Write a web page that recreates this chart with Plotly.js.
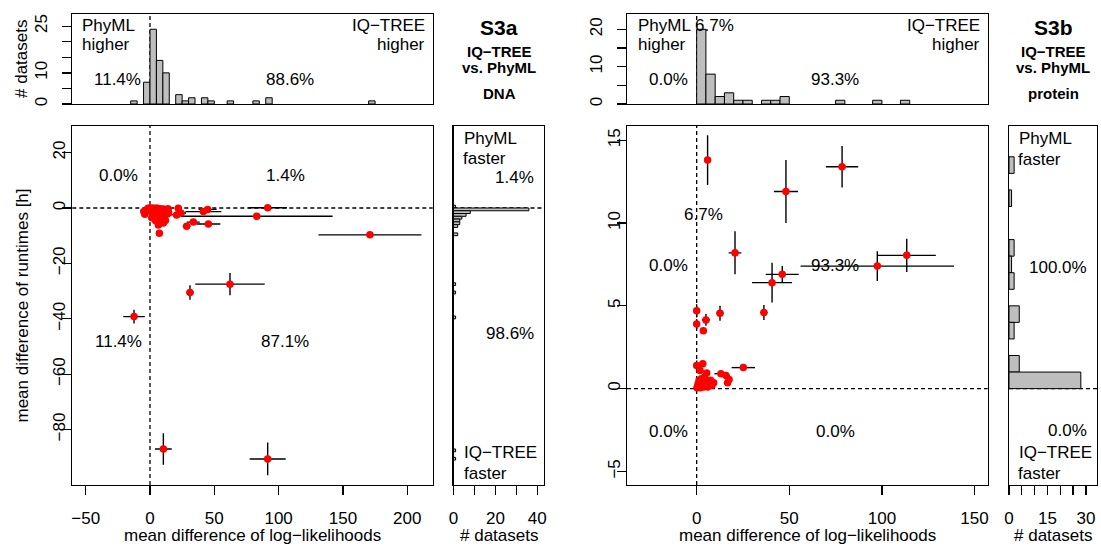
<!DOCTYPE html>
<html><head><meta charset="utf-8">
<script src="https://cdn.plot.ly/plotly-3.0.1.min.js"></script>
<style>html,body{margin:0;padding:0;background:#fff}#chart{width:1101px;height:547px}</style>
</head><body><div id="chart"></div>
<script>
// ---------------- DATA ----------------
// S3a  DNA: mean difference of log-likelihoods (x) and runtimes [h] (y), with error half-widths
const dnaLl = [91.5, 83, 171, 62.2, 31.1, -12.4, 10.4, 91.5, 45.4, 33.7, 28.5, 41.5, 44.8, 20.7, 22, 10.4, 6.5, 7.3, -4.8, 24,
  10.5, 11.5, 12.5, 13.5, 14, 11, 12, 14.5,
  5.5, 6, 6.5, 7, 7.5, 8, 8.5, 9, 9.5, 6.2, 5.8, 8.8,
  -1, -2, -3, -0.5, -4, -1.5,
  0.3, 0.5, 0.8, 1.0, 1.2, 1.5, 1.7, 2.0, 2.2, 2.5, 2.7, 3.0, 3.2, 3.5, 3.8, 4.0, 4.2, 4.5, 4.8,
  1.8, 2.8, 3.6, 1.4, 4.4];
const dnaRt = [0.1, -3.0, -9.7, -27.5, -30.5, -39.2, -87, -90.6, -5.8, -5.1, -6.6, -1.3, -0.5, -2.5, -0.1, -5.4, -6.1, -9.1, -1.3, -1.8,
  -0.4, -1.2, -0.8, -2.2, -0.3, -3.4, -4.5, -1.6,
  -0.2, -0.6, -0.9, -0.3, -1.5, -0.5, -2.5, -0.7, -3.6, -4.2, -0.1, -0.4,
  -0.2, -0.5, -0.8, -1.1, -2.3, -0.1,
  -0.1, -0.3, -0.6, -0.2, -0.8, -0.4, -0.1, -0.5, -0.9, -0.2, -0.7, -0.3, -0.5, -0.1, -0.6, -0.4, -0.8, -0.2, -0.5,
  -1.4, -2.3, -2.7, -3.5, -4.6];
const dnaLlErr = [15, 59, 40, 27, 3, 8.4, 6.5, 14, 9.3, 5, 3, 14, 7, 6, 2, 2, 1.5, 1.5, 1.5, 4,
  2, 3, 2.5, 2, 3, 1.5, 1.5, 2,
  1, 1.5, 1, 2, 1.5, 1, 2, 1.5, 1, 1, 1, 1.5,
  1, 1.5, 1, 1, 1.5, 1,
  1, 1, 1.5, 1, 1, 2, 1, 1, 1.5, 1, 1, 2, 1, 1, 1.5, 1, 1, 1, 1.5,
  1, 1.5, 1, 1, 1.5];
const dnaRtErr = [0.3, 0.3, 0.5, 4, 2.6, 2.5, 5.7, 5.9, 0.4, 0.4, 0.4, 0.3, 0.3, 0.3, 0.2, 0.4, 0.4, 0.4, 0.3, 0.3,
  0.2, 0.2, 0.2, 0.3, 0.2, 0.3, 0.3, 0.2,
  0.2, 0.2, 0.2, 0.2, 0.2, 0.2, 0.2, 0.2, 0.2, 0.2, 0.2, 0.2,
  0.2, 0.2, 0.2, 0.2, 0.2, 0.2,
  0.2, 0.2, 0.2, 0.2, 0.2, 0.2, 0.2, 0.2, 0.2, 0.2, 0.2, 0.2, 0.2, 0.2, 0.2, 0.2, 0.2, 0.2, 0.2,
  0.3, 0.3, 0.3, 0.3, 0.3];
// DNA marginal histograms (bin lower edge, count)
const dnaLlBinStart = [-15, -5, 0, 5, 10, 20, 25, 30, 40, 45, 60, 80, 90, 170];   // bin width 5
const dnaLlCounts   = [1, 7, 24, 14, 10, 3, 1, 2, 2, 1, 1, 1, 2, 1];
const dnaRtBinStart = [0, -1, -2, -3, -4, -5, -6, -7, -10, -28, -31, -40, -88, -91]; // bin width 1
const dnaRtCounts   = [1, 36, 8, 6, 4, 3, 3, 2, 2, 1, 1, 1, 1, 1];

// S3b  protein
const protLl = [5.9, 78.5, 48.2, 20.7, 113.4, 97.5, 46.2, 40.7, 36.3, 12.6, 0, 5.0, 0, 3.6, 25.2, 0, 3.3, 13.1, 15.8, 16.7, 1.8, 5.4,
  0.2, 0.5, 0.8, 1.0, 1.3, 1.6, 1.9, 2.2, 2.5, 2.8, 3.1, 3.4, 3.7, 4.0, 4.3, 4.7,
  5.3, 6.0, 6.8, 7.5, 8.3, 9.2, 17.5];
const protRt = [13.8, 13.4, 11.9, 8.2, 8.05, 7.4, 6.9, 6.4, 4.6, 4.55, 4.7, 4.15, 3.9, 3.5, 1.27, 1.4, 1.5, 0.9, 0.8, 0.36, 1.1, 0.95,
  0.05, 0.15, 0.3, 0.1, 0.5, 0.2, 0.05, 0.35, 0.6, 0.15, 0.25, 0.45, 0.1, 0.3, 0.7, 0.2,
  0.4, 0.1, 0.3, 0.5, 0.2, 0.35, 0.55];
const protLlErr = [0.8, 8.7, 6.5, 3.4, 15.7, 41.4, 8.9, 10.8, 2, 2, 0.3, 2.2, 0.3, 0.5, 6.3, 0.2, 0.5, 3.5, 2, 1.5, 0.5, 1,
  0.3, 0.3, 0.4, 0.3, 0.5, 0.3, 0.4, 0.5, 0.3, 0.4, 0.5, 0.3, 0.4, 0.5, 0.3, 0.4,
  0.6, 0.5, 0.8, 0.6, 0.7, 0.8, 1.5];
const protRtErr = [1.5, 1.25, 1.9, 1.3, 1.0, 0.9, 0.5, 1.2, 0.45, 0.45, 0.4, 0.35, 0.3, 0.2, 0.1, 0.3, 0.2, 0.1, 0.1, 0.1, 0.1, 0.1,
  0.05, 0.05, 0.05, 0.05, 0.05, 0.05, 0.05, 0.05, 0.05, 0.05, 0.05, 0.05, 0.05, 0.05, 0.05, 0.05,
  0.05, 0.05, 0.05, 0.05, 0.05, 0.05, 0.05];
const protLlBinStart = [0, 5, 10, 15, 20, 25, 35, 40, 45, 75, 95, 110];  // bin width 5
const protLlCounts   = [20, 8, 2, 3, 1, 1, 1, 1, 2, 1, 1, 1];
const protRtBinStart = [13, 11, 8, 7, 6, 4, 3, 1, 0];                    // bin width 1
const protRtCounts   = [2, 1, 2, 1, 2, 4, 2, 4, 28];

// ---------------- DRAWING ----------------
const W = 1101, H = 547;
const px = x => x / W, py = y => 1 - y / H;
const FONT = '"Liberation Sans", Arial, Helvetica, sans-serif';
const LW = 1.3;
const DASH = '4px,3px';

function histV(bs, c, w, xa, ya) {
  return {type: 'bar', x: bs.map(b => b + w / 2), y: c, width: w, xaxis: xa, yaxis: ya,
    marker: {color: '#bebebe', line: {color: 'black', width: 1}}, hoverinfo: 'skip', showlegend: false};
}
function histH(bs, c, w, xa, ya) {
  return {type: 'bar', orientation: 'h', y: bs.map(b => b + w / 2), x: c, width: w, xaxis: xa, yaxis: ya,
    marker: {color: '#bebebe', line: {color: 'black', width: 1}}, hoverinfo: 'skip', showlegend: false};
}
function scat(x, y, ex, ey, xa, ya) {
  return {type: 'scatter', mode: 'markers', x, y, xaxis: xa, yaxis: ya, showlegend: false,
    marker: {color: '#ff0000', size: 7.5},
    error_x: {type: 'data', array: ex, width: 0, color: 'black', thickness: 1.4},
    error_y: {type: 'data', array: ey, width: 0, color: 'black', thickness: 1.4}};
}

const traces = [
  scat(dnaLl, dnaRt, dnaLlErr, dnaRtErr, 'x', 'y'),
  histV(dnaLlBinStart, dnaLlCounts, 5, 'x2', 'y2'),
  histH(dnaRtBinStart, dnaRtCounts, 1, 'x3', 'y3'),
  scat(protLl, protRt, protLlErr, protRtErr, 'x4', 'y4'),
  histV(protLlBinStart, protLlCounts, 5, 'x5', 'y5'),
  histH(protRtBinStart, protRtCounts, 1, 'x6', 'y6')
];

const base = {showline: true, mirror: true, linecolor: 'black', linewidth: LW, showgrid: false, zeroline: false,
  ticks: 'outside', ticklen: 9, tickwidth: LW, tickcolor: 'black',
  tickfont: {family: FONT, size: 17, color: 'black'}, fixedrange: true};
const noTick = {ticks: '', showticklabels: false};
const xStand = 8, yStandMain = -10, yStandTop = 8;

const mainY = [py(485), py(126)], topY = [py(104), py(14)];
const lX = [px(72.3), px(432.7)], lH = [px(453.5), px(544)];
const rX = [px(627), px(987.7)], rH = [px(1009), px(1097)];
const lXr = [-60.4, 219.8], lYr = [-100, 29.6];
const rXr = [-37.6, 157.1], rYr = [-5.82, 15.86];

const layout = {
  width: W, height: H, margin: {l: 0, r: 0, t: 0, b: 0}, paper_bgcolor: 'white', plot_bgcolor: 'white',
  showlegend: false, font: {family: FONT, size: 17, color: 'black'},
  xaxis:  {...base, domain: lX, range: lXr, tickvals: [-50, 0, 50, 100, 150, 200], anchor: 'y', ticklabelstandoff: xStand},
  yaxis:  {...base, domain: mainY, range: lYr, tickvals: [-80, -60, -40, -20, 0, 20], tickangle: -90, anchor: 'x', ticklabelstandoff: yStandMain},
  xaxis2: {...base, ...noTick, domain: lX, range: lXr, anchor: 'y2'},
  yaxis2: {...base, domain: topY, range: [0, 28.9], tickvals: [0, 5, 10, 15, 20, 25], ticktext: ['0', '', '10', '', '', '25'], tickangle: -90, anchor: 'x2', ticklabelstandoff: yStandTop},
  xaxis3: {...base, domain: lH, range: [0, 43.2], tickvals: [0, 10, 20, 30, 40], ticktext: ['0', '', '20', '', '40'], anchor: 'y3', ticklabelstandoff: xStand},
  yaxis3: {...base, ...noTick, domain: mainY, range: lYr, anchor: 'x3'},
  xaxis4: {...base, domain: rX, range: rXr, tickvals: [0, 50, 100, 150], anchor: 'y4', ticklabelstandoff: xStand},
  yaxis4: {...base, domain: mainY, range: rYr, tickvals: [-5, 0, 5, 10, 15], tickangle: -90, anchor: 'x4', ticklabelstandoff: yStandMain},
  xaxis5: {...base, ...noTick, domain: rX, range: rXr, anchor: 'y5'},
  yaxis5: {...base, domain: topY, range: [0, 24.1], tickvals: [0, 5, 10, 15, 20], ticktext: ['0', '', '10', '', '20'], tickangle: -90, anchor: 'x5', ticklabelstandoff: yStandTop},
  xaxis6: {...base, domain: rH, range: [0, 34.3], tickvals: [0, 5, 10, 15, 20, 25, 30], ticktext: ['0', '', '', '15', '', '', '30'], anchor: 'y6', ticklabelstandoff: xStand},
  yaxis6: {...base, ...noTick, domain: mainY, range: rYr, anchor: 'x6'},
  bargap: 0
};

const dl = {color: 'black', width: LW, dash: DASH};
function vline(xa, ya) { return {type: 'line', xref: xa, yref: ya + ' domain', x0: 0, x1: 0, y0: 0, y1: 1, line: dl, layer: 'below'}; }
function hline(xa, ya) { return {type: 'line', xref: xa + ' domain', yref: ya, x0: 0, x1: 1, y0: 0, y1: 0, line: dl, layer: 'below'}; }
layout.shapes = [vline('x', 'y'), hline('x', 'y'), vline('x2', 'y2'), hline('x3', 'y3'),
                 vline('x4', 'y4'), hline('x4', 'y4'), vline('x5', 'y5'), hline('x6', 'y6')];

function ann(text, x, y, xanchor, extra) {
  return Object.assign({text, x: px(x), y: py(y), xref: 'paper', yref: 'paper', xanchor: xanchor || 'center', yanchor: 'middle',
    showarrow: false, font: {family: FONT, size: 17, color: 'black'}}, extra || {});
}
const bold = s => ({font: {family: FONT, size: s, color: 'black'}});
const bot = {borderpad: 0};
layout.annotations = [
  // S3a
  ann('PhyML', 80, 25, 'left'), ann('higher', 80, 45, 'left'),
  ann('IQ\u2212TREE', 427, 25, 'right'), ann('higher', 427, 45, 'right'),
  ann('11.4%', 117, 79), ann('88.6%', 290, 79),
  ann('0.0%', 118, 175), ann('1.4%', 285, 175), ann('11.4%', 118, 341), ann('87.1%', 285, 341),
  ann('PhyML', 462, 138, 'left'), ann('faster', 461, 158, 'left'), ann('1.4%', 536, 177, 'right'),
  ann('98.6%', 536, 333, 'right'), ann('IQ\u2212TREE', 462, 452, 'left'), ann('faster', 462, 473, 'left'),
  ann('<b>S3a</b>', 499, 27, 'center', bold(21)), ann('<b>IQ\u2212TREE</b>', 499, 52, 'center', bold(15)),
  ann('<b>vs. PhyML</b>', 499, 67, 'center', bold(15)), ann('<b>DNA</b>', 499, 93, 'center', bold(15)),
  ann('mean difference of log\u2212likelihoods', 252.5, 535.5, 'center', bot), ann('# datasets', 499, 535.5, 'center', bot),
  ann('mean difference of runtimes [h]', 22, 305.5, 'center', {textangle: -90}),
  ann('# datasets', 22, 59, 'center', {textangle: -90}),
  // S3b
  ann('PhyML', 636, 25, 'left'), ann('6.7%', 714.5, 25), ann('higher', 636, 45, 'left'),
  ann('IQ\u2212TREE', 982, 25, 'right'), ann('higher', 982, 45, 'right'),
  ann('0.0%', 668, 79), ann('93.3%', 835, 79),
  ann('6.7%', 703, 214), ann('0.0%', 668, 265), ann('93.3%', 835, 265), ann('0.0%', 668, 431), ann('0.0%', 835, 431),
  ann('PhyML', 1017, 138, 'left'), ann('faster', 1016, 160, 'left'), ann('100.0%', 1089, 267, 'right'),
  ann('0.0%', 1089, 430, 'right'), ann('IQ\u2212TREE', 1017, 452, 'left'), ann('faster', 1016, 473, 'left'),
  ann('<b>S3b</b>', 1053, 27, 'center', bold(21)), ann('<b>IQ\u2212TREE</b>', 1053, 52, 'center', bold(15)),
  ann('<b>vs. PhyML</b>', 1053, 67, 'center', bold(15)), ann('<b>protein</b>', 1053, 93, 'center', bold(15)),
  ann('mean difference of log\u2212likelihoods', 807, 535.5, 'center', bot), ann('# datasets', 1053, 535.5, 'center', bot)
];

Plotly.newPlot('chart', traces, layout, {staticPlot: true, displayModeBar: false});
</script></body></html>
